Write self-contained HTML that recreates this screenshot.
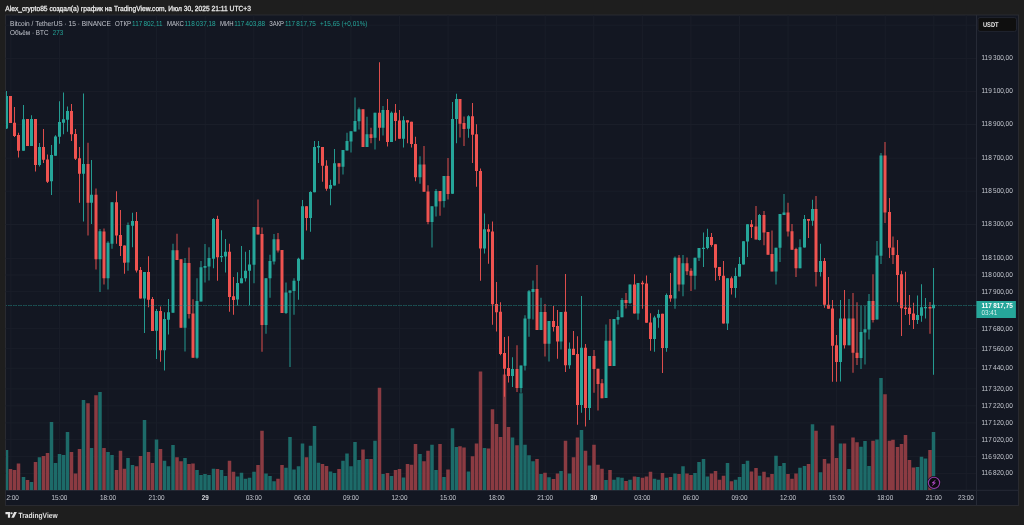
<!DOCTYPE html>
<html><head><meta charset="utf-8"><title>BTCUSDT</title>
<style>html,body{margin:0;padding:0;background:#1e1e1e;overflow:hidden}svg{display:block;text-rendering:geometricPrecision}text{font-family:"Liberation Sans",sans-serif}</style></head>
<body>
<svg width="1024" height="525" viewBox="0 0 1024 525" font-family="Liberation Sans, sans-serif">
<rect width="1024" height="525" fill="#1e1e1e"/>
<rect x="5.5" y="15" width="1013.0" height="490.5" fill="#131722" stroke="#292a30" stroke-width="1"/>
<clipPath id="c"><rect x="6.0" y="15.5" width="970.5" height="474.8"/></clipPath>
<path d="M10.88 15V490.3M59.45 15V490.3M108.03 15V490.3M156.60 15V490.3M205.18 15V490.3M253.75 15V490.3M302.33 15V490.3M350.90 15V490.3M399.48 15V490.3M448.05 15V490.3M496.63 15V490.3M545.20 15V490.3M593.78 15V490.3M642.35 15V490.3M690.93 15V490.3M739.50 15V490.3M788.07 15V490.3M836.65 15V490.3M885.22 15V490.3M933.80 15V490.3M966.18 15V490.3M5.5 25.20H976.5M5.5 58.40H976.5M5.5 91.40H976.5M5.5 124.50H976.5M5.5 158.20H976.5M5.5 191.20H976.5M5.5 224.50H976.5M5.5 258.40H976.5M5.5 275.00H976.5M5.5 291.70H976.5M5.5 328.70H976.5M5.5 348.70H976.5M5.5 368.30H976.5M5.5 388.90H976.5M5.5 405.80H976.5M5.5 422.90H976.5M5.5 439.70H976.5M5.5 456.70H976.5M5.5 473.40H976.5" stroke="#1a1e29" stroke-width="1" fill="none"/>
<path d="M976.5 15V505.5M5.5 490.3H1018.5" stroke="#262a36" stroke-width="1" fill="none"/>
<g clip-path="url(#c)">
<path d="M4.75 449.9H8.25V490.3H4.75ZM21.75 476.9H25.25V490.3H21.75ZM29.75 482.0H33.25V490.3H29.75ZM37.75 457.2H41.25V490.3H37.75ZM49.75 422.1H53.25V490.3H49.75ZM53.75 463.0H57.25V490.3H53.75ZM57.75 453.9H61.25V490.3H57.75ZM61.75 455.0H65.25V490.3H61.75ZM65.75 432.1H69.25V490.3H65.75ZM81.75 400.1H85.25V490.3H81.75ZM89.75 448.0H93.25V490.3H89.75ZM98.25 391.9H101.75V490.3H98.25ZM106.25 452.0H109.75V490.3H106.25ZM110.25 455.0H113.75V490.3H110.25ZM126.25 458.1H129.75V490.3H126.25ZM130.75 465.0H134.25V490.3H130.75ZM142.75 420.0H146.25V490.3H142.75ZM154.75 439.4H158.25V490.3H154.75ZM162.75 460.8H166.25V490.3H162.75ZM166.75 466.3H170.25V490.3H166.75ZM171.25 444.9H174.75V490.3H171.25ZM183.25 458.1H186.75V490.3H183.25ZM195.25 470.0H198.75V490.3H195.25ZM199.25 475.1H202.75V490.3H199.25ZM203.25 474.0H206.75V490.3H203.25ZM207.25 475.1H210.75V490.3H207.25ZM211.75 468.7H215.25V490.3H211.75ZM219.75 470.0H223.25V490.3H219.75ZM223.75 476.0H227.25V490.3H223.75ZM235.75 476.4H239.25V490.3H235.75ZM239.75 472.7H243.25V490.3H239.75ZM243.75 478.7H247.25V490.3H243.75ZM247.75 477.8H251.25V490.3H247.75ZM252.25 471.8H255.75V490.3H252.25ZM264.25 473.6H267.75V490.3H264.25ZM268.25 476.0H271.75V490.3H268.25ZM272.25 481.3H275.75V490.3H272.25ZM284.25 467.8H287.75V490.3H284.25ZM288.25 437.1H291.75V490.3H288.25ZM292.25 469.6H295.75V490.3H292.25ZM296.75 466.3H300.25V490.3H296.75ZM300.75 443.5H304.25V490.3H300.75ZM308.75 445.8H312.25V490.3H308.75ZM312.75 426.1H316.25V490.3H312.75ZM316.75 462.7H320.25V490.3H316.75ZM328.75 471.4H332.25V490.3H328.75ZM332.75 473.1H336.25V490.3H332.75ZM341.25 460.8H344.75V490.3H341.25ZM345.25 453.5H348.75V490.3H345.25ZM349.25 466.3H352.75V490.3H349.25ZM353.25 442.0H356.75V490.3H353.25ZM357.25 459.9H360.75V490.3H357.25ZM365.25 459.0H368.75V490.3H365.25ZM373.25 440.7H376.75V490.3H373.25ZM381.25 474.0H384.75V490.3H381.25ZM389.75 476.0H393.25V490.3H389.75ZM401.75 477.6H405.25V490.3H401.75ZM418.25 454.1H421.75V490.3H418.25ZM430.25 444.7H433.75V490.3H430.25ZM434.25 470.0H437.75V490.3H434.25ZM442.25 476.9H445.75V490.3H442.25ZM450.75 428.3H454.25V490.3H450.75ZM454.75 447.1H458.25V490.3H454.75ZM466.75 471.4H470.25V490.3H466.75ZM482.75 448.0H486.25V490.3H482.75ZM510.75 437.4H514.25V490.3H510.75ZM519.25 393.3H522.75V490.3H519.25ZM523.25 444.7H526.75V490.3H523.25ZM527.25 455.3H530.75V490.3H527.25ZM531.25 461.2H534.75V490.3H531.25ZM539.25 474.0H542.75V490.3H539.25ZM547.25 477.3H550.75V490.3H547.25ZM559.25 470.9H562.75V490.3H559.25ZM567.75 473.6H571.25V490.3H567.75ZM579.75 430.1H583.25V490.3H579.75ZM587.75 465.4H591.25V490.3H587.75ZM604.25 480.0H607.75V490.3H604.25ZM612.25 479.7H615.75V490.3H612.25ZM616.25 477.3H619.75V490.3H616.25ZM620.25 477.8H623.75V490.3H620.25ZM628.25 479.7H631.75V490.3H628.25ZM636.25 476.9H639.75V490.3H636.25ZM652.75 478.7H656.25V490.3H652.75ZM656.75 479.7H660.25V490.3H656.75ZM664.75 477.8H668.25V490.3H664.75ZM673.25 473.6H676.75V490.3H673.25ZM681.25 466.3H684.75V490.3H681.25ZM693.25 473.1H696.75V490.3H693.25ZM697.25 462.1H700.75V490.3H697.25ZM701.75 459.0H705.25V490.3H701.75ZM705.75 476.4H709.25V490.3H705.75ZM725.75 463.0H729.25V490.3H725.75ZM733.75 479.7H737.25V490.3H733.75ZM737.75 476.9H741.25V490.3H737.75ZM741.75 463.9H745.25V490.3H741.75ZM745.75 460.8H749.25V490.3H745.75ZM757.75 475.8H761.25V490.3H757.75ZM774.25 455.7H777.75V490.3H774.25ZM778.25 465.9H781.75V490.3H778.25ZM782.25 463.0H785.75V490.3H782.25ZM798.25 467.8H801.75V490.3H798.25ZM802.75 465.9H806.25V490.3H802.75ZM810.75 424.3H814.25V490.3H810.75ZM818.75 472.2H822.25V490.3H818.75ZM838.75 443.5H842.25V490.3H838.75ZM847.25 469.1H850.75V490.3H847.25ZM859.25 446.7H862.75V490.3H859.25ZM863.25 441.1H866.75V490.3H863.25ZM867.25 465.9H870.75V490.3H867.25ZM875.25 439.4H878.75V490.3H875.25ZM879.25 378.0H882.75V490.3H879.25ZM915.75 466.9H919.25V490.3H915.75ZM919.75 456.8H923.25V490.3H919.75ZM923.75 458.4H927.25V490.3H923.75ZM931.75 431.9H935.25V490.3H931.75Z" fill="#1d6b69"/>
<path d="M8.75 469.1H12.25V490.3H8.75ZM12.75 470.0H16.25V490.3H12.75ZM16.75 463.6H20.25V490.3H16.75ZM25.75 480.0H29.25V490.3H25.75ZM33.75 462.1H37.25V490.3H33.75ZM41.75 455.9H45.25V490.3H41.75ZM45.75 453.1H49.25V490.3H45.75ZM69.75 452.0H73.25V490.3H69.75ZM73.75 473.6H77.25V490.3H73.75ZM77.75 448.9H81.25V490.3H77.75ZM86.25 403.2H89.75V490.3H86.25ZM94.25 395.3H97.75V490.3H94.25ZM102.25 448.0H105.75V490.3H102.25ZM114.75 470.0H118.25V490.3H114.75ZM118.75 450.8H122.25V490.3H118.75ZM122.75 468.7H126.25V490.3H122.75ZM134.75 466.3H138.25V490.3H134.75ZM138.75 455.9H142.25V490.3H138.75ZM146.75 452.0H150.25V490.3H146.75ZM150.75 463.0H154.25V490.3H150.75ZM158.75 448.9H162.25V490.3H158.75ZM175.25 457.2H178.75V490.3H175.25ZM179.25 461.2H182.75V490.3H179.25ZM187.25 464.1H190.75V490.3H187.25ZM191.25 463.6H194.75V490.3H191.25ZM215.75 469.1H219.25V490.3H215.75ZM227.75 460.8H231.25V490.3H227.75ZM231.75 471.8H235.25V490.3H231.75ZM256.25 465.0H259.75V490.3H256.25ZM260.25 430.7H263.75V490.3H260.25ZM276.25 478.7H279.75V490.3H276.25ZM280.25 465.0H283.75V490.3H280.25ZM304.75 457.2H308.25V490.3H304.75ZM320.75 464.1H324.25V490.3H320.75ZM324.75 465.9H328.25V490.3H324.75ZM337.25 469.1H340.75V490.3H337.25ZM361.25 449.5H364.75V490.3H361.25ZM369.25 459.0H372.75V490.3H369.25ZM377.75 387.8H381.25V490.3H377.75ZM385.75 473.1H389.25V490.3H385.75ZM393.75 470.0H397.25V490.3H393.75ZM397.75 469.1H401.25V490.3H397.75ZM405.75 464.1H409.25V490.3H405.75ZM409.75 464.8H413.25V490.3H409.75ZM413.75 444.0H417.25V490.3H413.75ZM422.25 461.2H425.75V490.3H422.25ZM426.25 450.8H429.75V490.3H426.25ZM438.25 444.0H441.75V490.3H438.25ZM446.25 469.6H449.75V490.3H446.25ZM458.25 446.2H461.75V490.3H458.25ZM462.25 447.5H465.75V490.3H462.25ZM470.75 456.3H474.25V490.3H470.75ZM474.75 443.5H478.25V490.3H474.75ZM478.75 371.4H482.25V490.3H478.75ZM486.75 448.6H490.25V490.3H486.75ZM490.75 409.3H494.25V490.3H490.75ZM494.75 423.9H498.25V490.3H494.75ZM498.75 437.1H502.25V490.3H498.75ZM502.75 374.4H506.25V490.3H502.75ZM506.75 427.0H510.25V490.3H506.75ZM515.25 445.3H518.75V490.3H515.25ZM535.25 459.0H538.75V490.3H535.25ZM543.25 472.7H546.75V490.3H543.25ZM551.75 479.1H555.25V490.3H551.75ZM555.75 473.6H559.25V490.3H555.75ZM563.75 440.7H567.25V490.3H563.75ZM571.75 457.2H575.25V490.3H571.75ZM575.75 437.4H579.25V490.3H575.75ZM583.75 450.8H587.25V490.3H583.75ZM592.25 444.7H595.75V490.3H592.25ZM596.25 464.8H599.75V490.3H596.25ZM600.25 468.7H603.75V490.3H600.25ZM608.25 470.0H611.75V490.3H608.25ZM624.25 480.9H627.75V490.3H624.25ZM632.75 476.4H636.25V490.3H632.75ZM640.75 477.8H644.25V490.3H640.75ZM644.75 476.4H648.25V490.3H644.75ZM648.75 471.8H652.25V490.3H648.75ZM660.75 473.1H664.25V490.3H660.75ZM668.75 476.9H672.25V490.3H668.75ZM677.25 474.0H680.75V490.3H677.25ZM685.25 473.6H688.75V490.3H685.25ZM689.25 475.1H692.75V490.3H689.25ZM709.75 473.6H713.25V490.3H709.75ZM713.75 470.9H717.25V490.3H713.75ZM717.75 479.7H721.25V490.3H717.75ZM721.75 475.8H725.25V490.3H721.75ZM729.75 481.3H733.25V490.3H729.75ZM749.75 471.4H753.25V490.3H749.75ZM754.25 468.1H757.75V490.3H754.25ZM762.25 471.8H765.75V490.3H762.25ZM766.25 477.3H769.75V490.3H766.25ZM770.25 474.0H773.75V490.3H770.25ZM786.25 474.0H789.75V490.3H786.25ZM790.25 478.7H793.75V490.3H790.25ZM794.25 473.6H797.75V490.3H794.25ZM806.75 463.9H810.25V490.3H806.75ZM814.25 430.7H817.75V490.3H814.25ZM822.75 459.0H826.25V490.3H822.75ZM826.75 463.6H830.25V490.3H826.75ZM830.75 425.5H834.25V490.3H830.75ZM834.75 458.1H838.25V490.3H834.75ZM842.75 443.5H846.25V490.3H842.75ZM851.25 437.4H854.75V490.3H851.25ZM855.25 442.2H858.75V490.3H855.25ZM871.25 440.7H874.75V490.3H871.25ZM883.25 394.3H886.75V490.3H883.25ZM887.75 440.7H891.25V490.3H887.75ZM891.25 439.8H894.75V490.3H891.25ZM895.75 447.1H899.25V490.3H895.75ZM899.75 444.0H903.25V490.3H899.75ZM903.75 434.9H907.25V490.3H903.75ZM907.75 459.9H911.25V490.3H907.75ZM911.75 467.6H915.25V490.3H911.75ZM928.25 449.9H931.75V490.3H928.25Z" fill="#8b3b42"/>
<path d="M6.0 91.0H7.0V129.0H6.0ZM23.0 105.1H24.0V150.7H23.0ZM31.0 115.2H32.0V146.0H31.0ZM39.0 143.0H40.0V166.6H39.0ZM51.0 145.1H52.0V195.0H51.0ZM55.0 135.3H56.0V155.7H55.0ZM59.0 101.3H60.0V143.8H59.0ZM63.0 92.5H64.0V134.3H63.0ZM67.0 106.4H68.0V131.8H67.0ZM83.0 93.6H84.0V221.6H83.0ZM91.0 160.1H92.0V224.1H91.0ZM99.5 228.9H100.5V292.1H99.5ZM107.5 241.2H108.5V289.6H107.5ZM111.5 202.2H112.5V248.8H111.5ZM127.5 222.6H128.5V270.7H127.5ZM132.0 212.8H133.0V247.2H132.0ZM144.0 272.0H145.0V332.9H144.0ZM156.0 309.0H157.0V359.0H156.0ZM164.0 312.2H165.0V370.6H164.0ZM168.0 299.1H169.0V334.5H168.0ZM172.5 243.8H173.5V312.8H172.5ZM184.5 257.9H185.5V351.5H184.5ZM196.5 278.2H197.5V358.8H196.5ZM200.5 261.1H201.5V301.5H200.5ZM204.5 244.0H205.5V282.6H204.5ZM208.5 247.2H209.5V280.4H208.5ZM213.0 217.9H214.0V268.2H213.0ZM221.0 230.2H222.0V261.9H221.0ZM225.0 239.0H226.0V272.6H225.0ZM237.0 272.3H238.0V305.5H237.0ZM241.0 245.9H242.0V283.3H241.0ZM245.0 251.8H246.0V281.6H245.0ZM249.0 250.1H250.0V305.3H249.0ZM253.5 227.1H254.5V283.3H253.5ZM265.5 278.3H266.5V333.7H265.5ZM269.5 254.8H270.5V297.8H269.5ZM273.5 234.0H274.5V264.5H273.5ZM285.5 282.4H286.5V314.0H285.5ZM289.5 290.5H290.5V366.9H289.5ZM293.5 278.3H294.5V314.8H293.5ZM298.0 257.8H299.0V299.7H298.0ZM302.0 200.1H303.0V259.4H302.0ZM310.0 191.3H311.0V231.7H310.0ZM314.0 141.1H315.0V192.2H314.0ZM318.0 141.1H319.0V162.9H318.0ZM330.0 179.7H331.0V205.3H330.0ZM334.0 149.1H335.0V185.6H334.0ZM342.5 150.1H343.5V174.6H342.5ZM346.5 132.8H347.5V150.4H346.5ZM350.5 131.2H351.5V152.4H350.5ZM354.5 97.4H355.5V131.4H354.5ZM358.5 107.6H359.5V129.4H358.5ZM366.5 116.8H367.5V147.0H366.5ZM374.5 112.8H375.5V149.5H374.5ZM382.5 106.0H383.5V135.4H382.5ZM391.0 111.6H392.0V141.9H391.0ZM403.0 116.2H404.0V147.6H403.0ZM419.5 156.2H420.5V183.8H419.5ZM431.5 206.3H432.5V247.6H431.5ZM435.5 189.1H436.5V216.4H435.5ZM443.5 175.9H444.5V207.6H443.5ZM452.0 101.9H453.0V193.7H452.0ZM456.0 93.8H457.0V143.2H456.0ZM468.0 115.2H469.0V137.8H468.0ZM484.0 213.6H485.0V253.6H484.0ZM512.0 357.2H513.0V387.0H512.0ZM520.5 365.4H521.5V392.7H520.5ZM524.5 315.3H525.5V370.4H524.5ZM528.5 290.0H529.5V336.7H528.5ZM532.5 280.4H533.5V319.4H532.5ZM540.5 297.8H541.5V329.9H540.5ZM548.5 321.1H549.5V361.6H548.5ZM560.5 311.9H561.5V349.6H560.5ZM569.0 342.4H570.0V368.7H569.0ZM581.0 295.9H582.0V412.8H581.0ZM589.0 356.1H590.0V420.1H589.0ZM605.5 324.5H606.5V397.9H605.5ZM613.5 319.1H614.5V366.0H613.5ZM617.5 310.3H618.5V324.5H617.5ZM621.5 298.1H622.5V317.3H621.5ZM629.5 284.6H630.5V304.1H629.5ZM637.5 283.0H638.5V319.8H637.5ZM654.0 315.7H655.0V351.7H654.0ZM658.0 309.8H659.0V327.8H658.0ZM666.0 293.4H667.0V351.7H666.0ZM674.5 256.6H675.5V308.7H674.5ZM682.5 255.1H683.5V296.3H682.5ZM694.5 257.8H695.5V289.6H694.5ZM698.5 248.1H699.5V261.1H698.5ZM703.0 232.5H704.0V267.0H703.0ZM707.0 228.7H708.0V249.3H707.0ZM727.0 278.3H728.0V330.1H727.0ZM735.0 267.8H736.0V297.8H735.0ZM739.0 257.0H740.0V276.6H739.0ZM743.0 241.3H744.0V264.4H743.0ZM747.0 224.2H748.0V256.9H747.0ZM759.0 213.9H760.0V240.5H759.0ZM775.5 247.8H776.5V284.5H775.5ZM779.5 214.1H780.5V261.9H779.5ZM783.5 194.0H784.5V215.1H783.5ZM799.5 239.3H800.5V268.2H799.5ZM804.0 214.9H805.0V247.6H804.0ZM812.0 199.8H813.0V225.8H812.0ZM820.0 243.8H821.0V276.6H820.0ZM840.0 299.9H841.0V381.5H840.0ZM848.5 298.9H849.5V345.3H848.5ZM860.5 305.7H861.5V368.9H860.5ZM864.5 305.7H865.5V364.5H864.5ZM868.5 294.1H869.5V339.6H868.5ZM876.5 241.0H877.5V319.5H876.5ZM880.5 153.0H881.5V263.9H880.5ZM917.0 295.5H918.0V323.9H917.0ZM921.0 284.3H922.0V321.7H921.0ZM925.0 298.0H926.0V318.6H925.0ZM933.0 268.0H934.0V374.8H933.0Z" fill="#26a69a" opacity="0.92"/>
<path d="M10.0 96.1H11.0V123.1H10.0ZM14.0 107.0H15.0V137.0H14.0ZM18.0 132.8H19.0V157.6H18.0ZM27.0 119.0H28.0V146.0H27.0ZM35.0 119.0H36.0V171.4H35.0ZM43.0 129.0H44.0V162.9H43.0ZM47.0 154.4H48.0V183.0H47.0ZM71.0 104.1H72.0V141.0H71.0ZM75.0 129.0H76.0V160.0H75.0ZM79.0 146.9H80.0V202.8H79.0ZM87.5 142.8H88.5V235.4H87.5ZM95.5 188.4H96.5V269.6H95.5ZM103.5 228.6H104.5V284.5H103.5ZM116.0 191.3H117.0V243.7H116.0ZM120.0 210.0H121.0V255.9H120.0ZM124.0 245.5H125.0V273.8H124.0ZM136.0 211.9H137.0V272.6H136.0ZM140.0 266.9H141.0V298.5H140.0ZM148.0 256.2H149.0V307.3H148.0ZM152.0 297.1H153.0V331.1H152.0ZM160.0 306.4H161.0V361.8H160.0ZM176.5 233.7H177.5V260.0H176.5ZM180.5 259.2H181.5V327.8H180.5ZM188.5 247.5H189.5V318.6H188.5ZM192.5 299.2H193.5V357.8H192.5ZM217.0 215.7H218.0V280.7H217.0ZM229.0 243.8H230.0V311.8H229.0ZM233.0 277.0H234.0V314.7H233.0ZM257.5 199.4H258.5V234.6H257.5ZM261.5 227.5H262.5V351.8H261.5ZM277.5 233.0H278.5V252.6H277.5ZM281.5 250.1H282.5V312.9H281.5ZM306.0 206.3H307.0V230.5H306.0ZM322.0 147.0H323.0V181.8H322.0ZM326.0 160.2H327.0V190.8H326.0ZM338.5 163.3H339.5V183.8H338.5ZM362.5 109.2H363.5V147.0H362.5ZM370.5 127.8H371.5V143.2H370.5ZM379.0 62.3H380.0V140.7H379.0ZM387.0 99.0H388.0V146.6H387.0ZM395.0 103.9H396.0V140.7H395.0ZM399.0 110.0H400.0V138.8H399.0ZM407.0 120.2H408.0V143.2H407.0ZM411.0 121.8H412.0V147.6H411.0ZM415.0 136.8H416.0V181.3H415.0ZM423.5 146.1H424.5V191.7H423.5ZM427.5 185.3H428.5V224.2H427.5ZM439.5 191.0H440.5V215.8H439.5ZM447.5 157.9H448.5V199.4H447.5ZM459.5 99.0H460.5V137.6H459.5ZM463.5 116.5H464.5V146.1H463.5ZM472.0 102.9H473.0V162.9H472.0ZM476.0 124.2H477.0V186.8H476.0ZM480.0 168.4H481.0V280.8H480.0ZM488.0 224.2H489.0V263.8H488.0ZM492.0 221.4H493.0V324.8H492.0ZM496.0 282.1H497.0V331.4H496.0ZM500.0 302.2H501.0V355.3H500.0ZM504.0 337.0H505.0V396.8H504.0ZM508.0 336.2H509.0V382.6H508.0ZM516.5 345.2H517.5V392.0H516.5ZM536.5 265.1H537.5V329.9H536.5ZM544.5 304.1H545.5V356.5H544.5ZM553.0 306.0H554.0V331.6H553.0ZM557.0 310.1H558.0V358.8H557.0ZM565.0 274.1H566.0V371.9H565.0ZM573.0 331.1H574.0V355.0H573.0ZM577.0 336.2H578.0V424.7H577.0ZM585.0 343.9H586.0V426.6H585.0ZM593.5 350.0H594.5V392.7H593.5ZM597.5 368.8H598.5V410.5H597.5ZM601.5 379.1H602.5V398.3H601.5ZM609.5 319.1H610.5V366.0H609.5ZM625.5 293.0H626.5V308.5H625.5ZM634.0 274.2H635.0V313.6H634.0ZM642.0 280.8H643.0V308.8H642.0ZM646.0 275.4H647.0V322.8H646.0ZM650.0 313.2H651.0V350.8H650.0ZM662.0 313.8H663.0V373.1H662.0ZM670.0 272.9H671.0V301.8H670.0ZM678.5 255.1H679.5V291.3H678.5ZM686.5 257.6H687.5V274.9H686.5ZM690.5 268.3H691.5V290.9H690.5ZM711.0 233.0H712.0V246.8H711.0ZM715.0 244.3H716.0V280.8H715.0ZM719.0 267.0H720.0V279.9H719.0ZM723.0 261.0H724.0V323.6H723.0ZM731.0 276.6H732.0V294.6H731.0ZM751.0 220.1H752.0V238.0H751.0ZM755.5 206.1H756.5V239.6H755.5ZM763.5 211.1H764.5V245.3H763.5ZM767.5 232.1H768.5V254.7H767.5ZM771.5 230.5H772.5V271.6H771.5ZM787.5 202.8H788.5V236.5H787.5ZM791.5 223.9H792.5V249.7H791.5ZM795.5 247.8H796.5V277.0H795.5ZM808.0 219.1H809.0V238.0H808.0ZM815.5 196.0H816.5V286.4H815.5ZM824.0 258.0H825.0V307.7H824.0ZM828.0 277.1H829.0V308.8H828.0ZM832.0 299.9H833.0V381.7H832.0ZM836.0 335.0H837.0V381.7H836.0ZM844.0 290.1H845.0V348.5H844.0ZM852.5 293.1H853.5V372.7H852.5ZM856.5 302.3H857.5V365.1H856.5ZM872.5 274.2H873.5V322.4H872.5ZM884.5 142.0H885.5V223.0H884.5ZM889.0 198.0H890.0V257.9H889.0ZM892.5 236.4H893.5V263.9H892.5ZM897.0 240.0H898.0V302.3H897.0ZM901.0 270.8H902.0V335.9H901.0ZM905.0 271.7H906.0V314.9H905.0ZM909.0 295.1H910.0V324.9H909.0ZM913.0 302.8H914.0V328.9H913.0ZM929.5 301.9H930.5V333.7H929.5Z" fill="#ef5350" opacity="0.92"/>
<path d="M5.0 96.1H8.0V128.4H5.0ZM22.0 119.2H25.0V150.7H22.0ZM30.0 119.0H33.0V146.0H30.0ZM38.0 146.9H41.0V164.9H38.0ZM50.0 155.1H53.0V181.2H50.0ZM54.0 136.6H57.0V155.7H54.0ZM58.0 122.1H61.0V136.8H58.0ZM62.0 119.2H65.0V122.7H62.0ZM66.0 111.0H69.0V119.8H66.0ZM82.0 164.1H85.0V173.7H82.0ZM90.0 194.7H93.0V202.8H90.0ZM98.5 231.2H101.5V259.2H98.5ZM106.5 242.7H109.5V278.3H106.5ZM110.5 202.2H113.5V243.7H110.5ZM126.5 225.1H129.5V262.6H126.5ZM131.0 221.1H134.0V225.8H131.0ZM143.0 272.0H146.0V298.4H143.0ZM155.0 310.9H158.0V330.7H155.0ZM163.0 318.9H166.0V350.2H163.0ZM167.0 312.2H170.0V319.8H167.0ZM171.5 250.3H174.5V312.8H171.5ZM183.5 263.1H186.5V327.8H183.5ZM195.5 300.9H198.5V357.8H195.5ZM199.5 267.3H202.5V301.5H199.5ZM203.5 266.0H206.5V267.8H203.5ZM207.5 258.1H210.5V266.5H207.5ZM212.0 218.9H215.0V258.8H212.0ZM220.0 256.0H223.0V257.2H220.0ZM224.0 251.8H227.0V256.6H224.0ZM236.0 282.9H239.0V299.6H236.0ZM240.0 278.2H243.0V283.3H240.0ZM244.0 270.7H247.0V278.2H244.0ZM248.0 264.5H251.0V270.7H248.0ZM252.5 227.1H255.5V264.8H252.5ZM264.5 278.3H267.5V324.9H264.5ZM268.5 261.1H271.5V278.3H268.5ZM272.5 239.3H275.5V261.6H272.5ZM284.5 292.5H287.5V312.9H284.5ZM288.5 290.5H291.5V292.8H288.5ZM292.5 280.8H295.5V290.9H292.5ZM297.0 258.8H300.0V280.8H297.0ZM301.0 206.3H304.0V259.4H301.0ZM309.0 191.9H312.0V217.9H309.0ZM313.0 147.0H316.0V192.2H313.0ZM317.0 146.1H320.0V147.6H317.0ZM329.0 185.1H332.0V188.8H329.0ZM333.0 163.3H336.0V185.6H333.0ZM341.5 150.1H344.5V166.7H341.5ZM345.5 141.1H348.5V150.4H345.5ZM349.5 131.2H352.5V141.6H349.5ZM353.5 121.0H356.5V131.4H353.5ZM357.5 109.2H360.5V121.3H357.5ZM365.5 134.3H368.5V147.0H365.5ZM373.5 112.8H376.5V137.8H373.5ZM381.5 110.0H384.5V127.8H381.5ZM390.0 112.8H393.0V141.9H390.0ZM402.0 120.2H405.0V138.8H402.0ZM418.5 164.6H421.5V177.2H418.5ZM430.5 206.3H433.5V222.1H430.5ZM434.5 191.0H437.5V206.6H434.5ZM442.5 175.9H445.5V201.1H442.5ZM451.0 118.9H454.0V193.7H451.0ZM455.0 99.0H458.0V118.9H455.0ZM467.0 116.2H470.0V128.8H467.0ZM483.0 229.2H486.0V248.5H483.0ZM511.0 369.0H514.0V376.1H511.0ZM519.5 365.4H522.5V387.9H519.5ZM523.5 318.6H526.5V365.8H523.5ZM527.5 291.2H530.5V318.8H527.5ZM531.5 289.0H534.5V292.1H531.5ZM539.5 311.9H542.5V329.9H539.5ZM547.5 321.1H550.5V343.7H547.5ZM559.5 311.9H562.5V341.4H559.5ZM568.0 348.7H571.0V365.3H568.0ZM580.0 347.7H583.0V405.0H580.0ZM588.0 356.1H591.0V408.0H588.0ZM604.5 340.8H607.5V397.9H604.5ZM612.5 319.1H615.5V366.0H612.5ZM616.5 316.9H619.5V319.8H616.5ZM620.5 300.1H623.5V317.3H620.5ZM628.5 284.6H631.5V303.1H628.5ZM636.5 283.0H639.5V313.6H636.5ZM653.0 317.5H656.0V339.0H653.0ZM657.0 314.1H660.0V317.7H657.0ZM665.0 295.0H668.0V348.0H665.0ZM673.5 257.8H676.5V298.4H673.5ZM681.5 263.2H684.5V284.6H681.5ZM693.5 257.8H696.5V275.8H693.5ZM697.5 248.1H700.5V257.8H697.5ZM702.0 247.7H705.0V249.0H702.0ZM706.0 237.1H709.0V248.1H706.0ZM726.0 278.3H729.0V323.6H726.0ZM734.0 276.1H737.0V287.9H734.0ZM738.0 264.1H741.0V276.6H738.0ZM742.0 241.3H745.0V264.4H742.0ZM746.0 224.2H749.0V241.5H746.0ZM758.0 215.1H761.0V240.0H758.0ZM774.5 247.8H777.5V271.6H774.5ZM778.5 214.1H781.5V247.8H778.5ZM782.5 212.6H785.5V215.1H782.5ZM798.5 247.2H801.5V268.2H798.5ZM803.0 219.1H806.0V247.6H803.0ZM811.0 209.1H814.0V220.8H811.0ZM819.0 261.1H822.0V272.0H819.0ZM839.0 318.6H842.0V362.0H839.0ZM847.5 318.6H850.5V345.3H847.5ZM859.5 332.1H862.5V357.9H859.5ZM863.5 329.2H866.5V332.5H863.5ZM867.5 301.0H870.5V329.6H867.5ZM875.5 255.4H878.5V319.5H875.5ZM879.5 155.4H882.5V255.7H879.5ZM916.0 315.1H919.0V319.9H916.0ZM920.0 307.3H923.0V315.7H920.0ZM924.0 306.9H927.0V308.2H924.0ZM932.0 304.8H935.0V308.2H932.0Z" fill="#26a69a"/>
<path d="M9.0 96.1H12.0V123.1H9.0ZM13.0 122.7H16.0V135.9H13.0ZM17.0 135.0H20.0V150.7H17.0ZM26.0 119.0H29.0V146.0H26.0ZM34.0 119.0H37.0V164.9H34.0ZM42.0 146.9H45.0V159.8H42.0ZM46.0 159.5H49.0V181.7H46.0ZM70.0 111.0H73.0V134.3H70.0ZM74.0 134.0H77.0V158.8H74.0ZM78.0 158.2H81.0V173.7H78.0ZM86.5 163.9H89.5V202.8H86.5ZM94.5 194.7H97.5V259.3H94.5ZM102.5 231.4H105.5V278.3H102.5ZM115.0 202.2H118.0V235.4H115.0ZM119.0 234.9H122.0V245.9H119.0ZM123.0 245.5H126.0V262.8H123.0ZM135.0 221.1H138.0V270.5H135.0ZM139.0 270.1H142.0V298.5H139.0ZM147.0 272.0H150.0V299.8H147.0ZM151.0 299.0H154.0V331.1H151.0ZM159.0 310.9H162.0V350.2H159.0ZM175.5 250.3H178.5V260.0H175.5ZM179.5 259.2H182.5V327.8H179.5ZM187.5 263.1H190.5V314.0H187.5ZM191.5 313.4H194.5V357.8H191.5ZM216.0 219.1H219.0V257.2H216.0ZM228.0 251.8H231.0V297.1H228.0ZM232.0 296.2H235.0V300.0H232.0ZM256.5 227.1H259.5V234.6H256.5ZM260.5 234.0H263.5V324.9H260.5ZM276.5 239.3H279.5V250.4H276.5ZM280.5 250.1H283.5V312.9H280.5ZM305.0 206.3H308.0V217.9H305.0ZM321.0 147.0H324.0V165.8H321.0ZM325.0 165.8H328.0V188.8H325.0ZM337.5 163.3H340.5V166.7H337.5ZM361.5 109.2H364.5V147.0H361.5ZM369.5 134.3H372.5V138.0H369.5ZM378.0 112.8H381.0V127.8H378.0ZM386.0 110.0H389.0V141.9H386.0ZM394.0 112.8H397.0V120.9H394.0ZM398.0 120.5H401.0V138.8H398.0ZM406.0 120.2H409.0V122.6H406.0ZM410.0 121.8H413.0V144.1H410.0ZM414.0 144.1H417.0V177.2H414.0ZM422.5 164.6H425.5V191.7H422.5ZM426.5 191.4H429.5V222.1H426.5ZM438.5 191.0H441.5V201.3H438.5ZM446.5 175.9H449.5V193.9H446.5ZM458.5 99.0H461.5V123.8H458.5ZM462.5 123.0H465.5V129.0H462.5ZM471.0 116.2H474.0V134.7H471.0ZM475.0 134.3H478.0V170.9H475.0ZM479.0 170.9H482.0V248.5H479.0ZM487.0 229.2H490.0V231.7H487.0ZM491.0 231.5H494.0V304.3H491.0ZM495.0 304.1H498.0V312.3H495.0ZM499.0 311.8H502.0V354.0H499.0ZM503.0 353.0H506.0V368.8H503.0ZM507.0 368.1H510.0V376.1H507.0ZM515.5 369.0H518.5V387.9H515.5ZM535.5 289.0H538.5V329.9H535.5ZM543.5 311.9H546.5V343.7H543.5ZM552.0 321.1H555.0V327.0H552.0ZM556.0 326.1H559.0V341.4H556.0ZM564.0 311.7H567.0V365.3H564.0ZM572.0 348.7H575.0V355.0H572.0ZM576.0 354.0H579.0V405.0H576.0ZM584.0 347.7H587.0V408.0H584.0ZM592.5 356.1H595.5V369.0H592.5ZM596.5 368.8H599.5V383.9H596.5ZM600.5 383.2H603.5V398.3H600.5ZM608.5 340.8H611.5V366.0H608.5ZM624.5 300.1H627.5V303.1H624.5ZM633.0 284.6H636.0V313.6H633.0ZM641.0 282.7H644.0V284.2H641.0ZM645.0 283.4H648.0V322.8H645.0ZM649.0 322.5H652.0V339.0H649.0ZM661.0 313.8H664.0V348.0H661.0ZM669.0 295.0H672.0V298.4H669.0ZM677.5 257.8H680.5V284.6H677.5ZM685.5 263.2H688.5V271.2H685.5ZM689.5 270.8H692.5V275.8H689.5ZM710.0 237.1H713.0V245.0H710.0ZM714.0 244.3H717.0V267.8H714.0ZM718.0 267.0H721.0V276.1H718.0ZM722.0 275.7H725.0V323.6H722.0ZM730.0 278.3H733.0V287.9H730.0ZM750.0 224.2H753.0V227.1H750.0ZM754.5 226.4H757.5V239.6H754.5ZM762.5 215.1H765.5V232.5H762.5ZM766.5 232.1H769.5V254.7H766.5ZM770.5 254.1H773.5V271.6H770.5ZM786.5 212.6H789.5V231.5H786.5ZM790.5 231.2H793.5V249.7H790.5ZM794.5 249.1H797.5V268.2H794.5ZM807.0 219.1H810.0V220.8H807.0ZM814.5 209.1H817.5V272.0H814.5ZM823.0 261.1H826.0V304.8H823.0ZM827.0 304.8H830.0V308.8H827.0ZM831.0 308.6H834.0V345.8H831.0ZM835.0 345.2H838.0V362.0H835.0ZM843.0 318.6H846.0V345.3H843.0ZM851.5 318.6H854.5V352.8H851.5ZM855.5 352.7H858.5V357.9H855.5ZM871.5 301.0H874.5V319.9H871.5ZM883.5 155.4H886.5V212.6H883.5ZM888.0 212.0H891.0V247.8H888.0ZM891.5 247.6H894.5V255.1H891.5ZM896.0 254.9H899.0V275.0H896.0ZM900.0 274.2H903.0V308.2H900.0ZM904.0 307.6H907.0V309.1H904.0ZM908.0 307.8H911.0V313.9H908.0ZM912.0 313.6H915.0V319.9H912.0ZM928.5 306.9H931.5V308.6H928.5Z" fill="#ef5350"/>
</g>
<path d="M6 305.45H976.5" stroke="#26a69a" stroke-width="1.1" stroke-dasharray="1.4 0.8 1.4 1.4" stroke-dashoffset="2.8" opacity="0.55"/>
<clipPath id="c2"><rect x="6.0" y="490.3" width="971.0" height="15.199999999999989"/></clipPath>
<rect x="976.4" y="301" width="39.5" height="17" fill="#26a69a"/>
<rect x="978" y="17.6" width="38.5" height="13.8" rx="2" fill="#0f0f0f" stroke="#262a36" stroke-width="0.8"/>
<circle cx="934" cy="482.85" r="6.9" fill="#10121a"/>
<circle cx="934" cy="482.85" r="5.65" fill="#0d0b10" stroke="#933ca6" stroke-width="1.15"/>
<path d="M935.4 480.1L931.9 482.9L934.0 483.15L932.2 485.8L935.6 482.85L933.5 482.6Z" fill="#c252da" stroke="#c252da" stroke-width="0.3" stroke-linejoin="round"/>
<g fill="#e2e2e2"><path d="M5.45 512.1H10.1V517.75H7.9V514.2H5.45Z"/><circle cx="11.55" cy="513.25" r="1.12"/><path d="M14.15 512.1H16.9L14.0 517.75H11.25Z"/></g>
<g opacity="0.999">
<text x="981.5" y="60.2" font-size="7.2" fill="#c3c6ce" text-anchor="start" font-weight="normal" textLength="31.3" lengthAdjust="spacingAndGlyphs">119 300,00</text>
<text x="981.5" y="93.2" font-size="7.2" fill="#c3c6ce" text-anchor="start" font-weight="normal" textLength="31.3" lengthAdjust="spacingAndGlyphs">119 100,00</text>
<text x="981.5" y="126.3" font-size="7.2" fill="#c3c6ce" text-anchor="start" font-weight="normal" textLength="31.3" lengthAdjust="spacingAndGlyphs">118 900,00</text>
<text x="981.5" y="160.0" font-size="7.2" fill="#c3c6ce" text-anchor="start" font-weight="normal" textLength="31.3" lengthAdjust="spacingAndGlyphs">118 700,00</text>
<text x="981.5" y="193.0" font-size="7.2" fill="#c3c6ce" text-anchor="start" font-weight="normal" textLength="31.3" lengthAdjust="spacingAndGlyphs">118 500,00</text>
<text x="981.5" y="226.3" font-size="7.2" fill="#c3c6ce" text-anchor="start" font-weight="normal" textLength="31.3" lengthAdjust="spacingAndGlyphs">118 300,00</text>
<text x="981.5" y="260.2" font-size="7.2" fill="#c3c6ce" text-anchor="start" font-weight="normal" textLength="31.3" lengthAdjust="spacingAndGlyphs">118 100,00</text>
<text x="981.5" y="276.8" font-size="7.2" fill="#c3c6ce" text-anchor="start" font-weight="normal" textLength="31.3" lengthAdjust="spacingAndGlyphs">118 000,00</text>
<text x="981.5" y="293.5" font-size="7.2" fill="#c3c6ce" text-anchor="start" font-weight="normal" textLength="31.3" lengthAdjust="spacingAndGlyphs">117 900,00</text>
<text x="981.5" y="330.5" font-size="7.2" fill="#c3c6ce" text-anchor="start" font-weight="normal" textLength="31.3" lengthAdjust="spacingAndGlyphs">117 680,00</text>
<text x="981.5" y="350.5" font-size="7.2" fill="#c3c6ce" text-anchor="start" font-weight="normal" textLength="31.3" lengthAdjust="spacingAndGlyphs">117 560,00</text>
<text x="981.5" y="370.1" font-size="7.2" fill="#c3c6ce" text-anchor="start" font-weight="normal" textLength="31.3" lengthAdjust="spacingAndGlyphs">117 440,00</text>
<text x="981.5" y="390.7" font-size="7.2" fill="#c3c6ce" text-anchor="start" font-weight="normal" textLength="31.3" lengthAdjust="spacingAndGlyphs">117 320,00</text>
<text x="981.5" y="407.6" font-size="7.2" fill="#c3c6ce" text-anchor="start" font-weight="normal" textLength="31.3" lengthAdjust="spacingAndGlyphs">117 220,00</text>
<text x="981.5" y="424.7" font-size="7.2" fill="#c3c6ce" text-anchor="start" font-weight="normal" textLength="31.3" lengthAdjust="spacingAndGlyphs">117 120,00</text>
<text x="981.5" y="441.5" font-size="7.2" fill="#c3c6ce" text-anchor="start" font-weight="normal" textLength="31.3" lengthAdjust="spacingAndGlyphs">117 020,00</text>
<text x="981.5" y="458.5" font-size="7.2" fill="#c3c6ce" text-anchor="start" font-weight="normal" textLength="31.3" lengthAdjust="spacingAndGlyphs">116 920,00</text>
<text x="981.5" y="475.2" font-size="7.2" fill="#c3c6ce" text-anchor="start" font-weight="normal" textLength="31.3" lengthAdjust="spacingAndGlyphs">116 820,00</text>
<g clip-path="url(#c2)">
<text x="10.8779" y="500" font-size="7.2" fill="#c3c6ce" text-anchor="middle" font-weight="normal" textLength="16" lengthAdjust="spacingAndGlyphs">12:00</text>
<text x="59.4527" y="500" font-size="7.2" fill="#c3c6ce" text-anchor="middle" font-weight="normal" textLength="16" lengthAdjust="spacingAndGlyphs">15:00</text>
<text x="108.0275" y="500" font-size="7.2" fill="#c3c6ce" text-anchor="middle" font-weight="normal" textLength="16" lengthAdjust="spacingAndGlyphs">18:00</text>
<text x="156.6023" y="500" font-size="7.2" fill="#c3c6ce" text-anchor="middle" font-weight="normal" textLength="16" lengthAdjust="spacingAndGlyphs">21:00</text>
<text x="205.17710000000002" y="500" font-size="7.2" fill="#d4d6dc" text-anchor="middle" font-weight="bold" textLength="7" lengthAdjust="spacingAndGlyphs">29</text>
<text x="253.75190000000003" y="500" font-size="7.2" fill="#c3c6ce" text-anchor="middle" font-weight="normal" textLength="16" lengthAdjust="spacingAndGlyphs">03:00</text>
<text x="302.3267" y="500" font-size="7.2" fill="#c3c6ce" text-anchor="middle" font-weight="normal" textLength="16" lengthAdjust="spacingAndGlyphs">06:00</text>
<text x="350.9015" y="500" font-size="7.2" fill="#c3c6ce" text-anchor="middle" font-weight="normal" textLength="16" lengthAdjust="spacingAndGlyphs">09:00</text>
<text x="399.47630000000004" y="500" font-size="7.2" fill="#c3c6ce" text-anchor="middle" font-weight="normal" textLength="16" lengthAdjust="spacingAndGlyphs">12:00</text>
<text x="448.0511" y="500" font-size="7.2" fill="#c3c6ce" text-anchor="middle" font-weight="normal" textLength="16" lengthAdjust="spacingAndGlyphs">15:00</text>
<text x="496.6259" y="500" font-size="7.2" fill="#c3c6ce" text-anchor="middle" font-weight="normal" textLength="16" lengthAdjust="spacingAndGlyphs">18:00</text>
<text x="545.2007000000001" y="500" font-size="7.2" fill="#c3c6ce" text-anchor="middle" font-weight="normal" textLength="16" lengthAdjust="spacingAndGlyphs">21:00</text>
<text x="593.7755000000001" y="500" font-size="7.2" fill="#d4d6dc" text-anchor="middle" font-weight="bold" textLength="7" lengthAdjust="spacingAndGlyphs">30</text>
<text x="642.3503000000001" y="500" font-size="7.2" fill="#c3c6ce" text-anchor="middle" font-weight="normal" textLength="16" lengthAdjust="spacingAndGlyphs">03:00</text>
<text x="690.9251" y="500" font-size="7.2" fill="#c3c6ce" text-anchor="middle" font-weight="normal" textLength="16" lengthAdjust="spacingAndGlyphs">06:00</text>
<text x="739.4999000000001" y="500" font-size="7.2" fill="#c3c6ce" text-anchor="middle" font-weight="normal" textLength="16" lengthAdjust="spacingAndGlyphs">09:00</text>
<text x="788.0747000000001" y="500" font-size="7.2" fill="#c3c6ce" text-anchor="middle" font-weight="normal" textLength="16" lengthAdjust="spacingAndGlyphs">12:00</text>
<text x="836.6495000000001" y="500" font-size="7.2" fill="#c3c6ce" text-anchor="middle" font-weight="normal" textLength="16" lengthAdjust="spacingAndGlyphs">15:00</text>
<text x="885.2243000000001" y="500" font-size="7.2" fill="#c3c6ce" text-anchor="middle" font-weight="normal" textLength="16" lengthAdjust="spacingAndGlyphs">18:00</text>
<text x="933.7991000000001" y="500" font-size="7.2" fill="#c3c6ce" text-anchor="middle" font-weight="normal" textLength="16" lengthAdjust="spacingAndGlyphs">21:00</text>
<text x="965.9" y="500" font-size="7.2" fill="#c3c6ce" text-anchor="middle" font-weight="normal" textLength="16" lengthAdjust="spacingAndGlyphs">23:00</text>
</g>
<text x="981.5" y="307.9" font-size="7.2" fill="#ffffff" text-anchor="start" font-weight="bold" textLength="31.3" lengthAdjust="spacingAndGlyphs">117 817,75</text>
<text x="981.5" y="315.4" font-size="7.2" fill="#d5efec" text-anchor="start" font-weight="normal" textLength="15.8" lengthAdjust="spacingAndGlyphs">03:41</text>
<text x="983" y="27.1" font-size="7" fill="#e8e8e8" text-anchor="start" font-weight="bold" textLength="15.5" lengthAdjust="spacingAndGlyphs">USDT</text>
<text x="5.3" y="10.7" font-size="7.4" fill="#ececec" text-anchor="start" font-weight="normal" textLength="245.6" lengthAdjust="spacingAndGlyphs" stroke="#ececec" stroke-width="0.28">Alex_crypto85 создал(а) график на TradingView.com, Июл 30, 2025 21:11 UTC+3</text>
<text x="10" y="25.7" font-size="7.2" fill="#c3c6ce" text-anchor="start" font-weight="normal" textLength="101" lengthAdjust="spacingAndGlyphs">Bitcoin / TetherUS · 15 · BINANCE</text>
<text x="115.1" y="25.7" font-size="7.2" fill="#c3c6ce" text-anchor="start" font-weight="normal" textLength="16.1" lengthAdjust="spacingAndGlyphs">ОТКР</text>
<text x="132.1" y="25.7" font-size="7.2" fill="#26a69a" text-anchor="start" font-weight="normal" textLength="30.4" lengthAdjust="spacingAndGlyphs">117 802,11</text>
<text x="167" y="25.7" font-size="7.2" fill="#c3c6ce" text-anchor="start" font-weight="normal" textLength="16.9" lengthAdjust="spacingAndGlyphs">МАКС</text>
<text x="184.5" y="25.7" font-size="7.2" fill="#26a69a" text-anchor="start" font-weight="normal" textLength="31.2" lengthAdjust="spacingAndGlyphs">118 037,18</text>
<text x="220.1" y="25.7" font-size="7.2" fill="#c3c6ce" text-anchor="start" font-weight="normal" textLength="13.6" lengthAdjust="spacingAndGlyphs">МИН</text>
<text x="234.2" y="25.7" font-size="7.2" fill="#26a69a" text-anchor="start" font-weight="normal" textLength="30.9" lengthAdjust="spacingAndGlyphs">117 403,88</text>
<text x="269.2" y="25.7" font-size="7.2" fill="#c3c6ce" text-anchor="start" font-weight="normal" textLength="14.8" lengthAdjust="spacingAndGlyphs">ЗАКР</text>
<text x="284.9" y="25.7" font-size="7.2" fill="#26a69a" text-anchor="start" font-weight="normal" textLength="31.0" lengthAdjust="spacingAndGlyphs">117 817,75</text>
<text x="320.1" y="25.7" font-size="7.2" fill="#26a69a" text-anchor="start" font-weight="normal" textLength="47.4" lengthAdjust="spacingAndGlyphs">+15,65 (+0,01%)</text>
<text x="10" y="35.2" font-size="7.2" fill="#c3c6ce" text-anchor="start" font-weight="normal" textLength="38.5" lengthAdjust="spacingAndGlyphs">Объём · BTC</text>
<text x="52.8" y="35.2" font-size="7.2" fill="#26a69a" text-anchor="start" font-weight="normal" textLength="10.4" lengthAdjust="spacingAndGlyphs">273</text>
<text x="18.6" y="517.8" font-size="7.6" fill="#e2e2e2" text-anchor="start" font-weight="bold" textLength="39" lengthAdjust="spacingAndGlyphs">TradingView</text>
</g>
</svg>
</body></html>
